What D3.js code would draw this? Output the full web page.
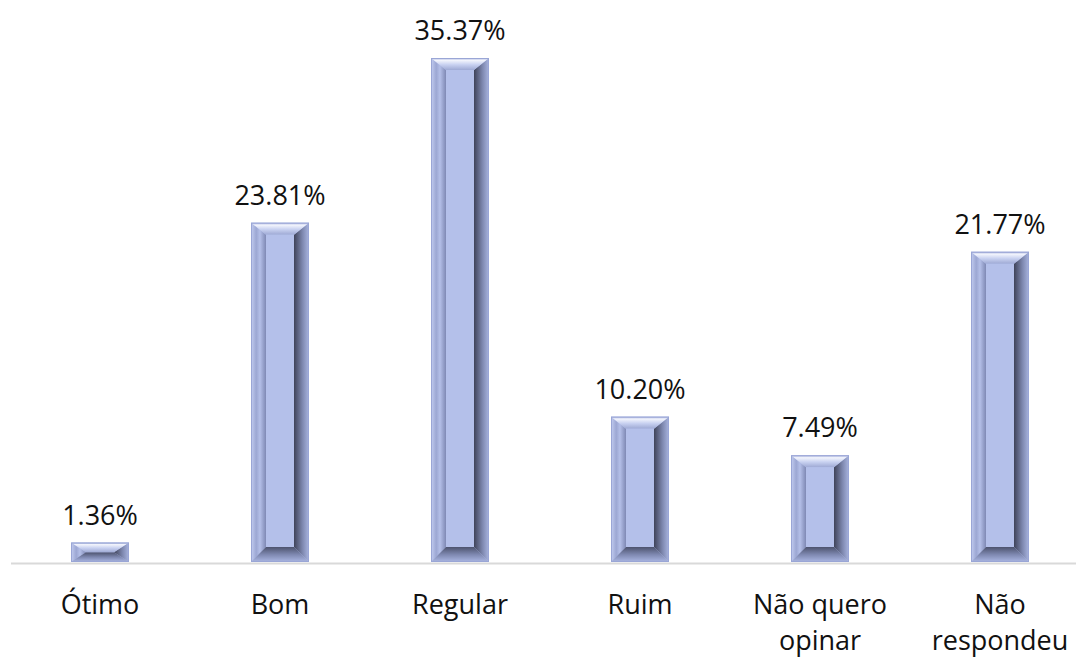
<!DOCTYPE html>
<html>
<head>
<meta charset="utf-8">
<script src="https://cdn.jsdelivr.net/npm/d3@7"></script>
<style>
  body { margin: 0; background: #fff; }
  text { font-family: "Open Sans", "Noto Sans", sans-serif; fill: #111; }
</style>
</head>
<body>
<div class="container"></div>
<script>
let categories = ["Ótimo", "Bom", "Regular", "Ruim", "Não quero opinar", "Não respondeu"];
let categoryLines = [["Ótimo"], ["Bom"], ["Regular"], ["Ruim"], ["Não quero", "opinar"], ["Não", "respondeu"]];
let values = [1.36, 23.81, 35.37, 10.20, 7.49, 21.77];
let valueLabels = ["1.36%", "23.81%", "35.37%", "10.20%", "7.49%", "21.77%"];

let W = 1076, H = 658;
let baseY = 562, topY = 58;

let svg = d3.select(".container").append("svg")
    .attr("width", W)
    .attr("height", H);

let x = d3.scaleBand().domain(categories).range([10, 1090]).padding(0);
let y = d3.scaleLinear().domain([0, d3.max(values)]).range([baseY, topY]);
let barW = 58;

// gradients for the bevelled bars
let defs = svg.append("defs");
function grad(id, x1, y1, x2, y2, stops) {
    let g = defs.append("linearGradient").attr("id", id)
        .attr("x1", x1).attr("y1", y1).attr("x2", x2).attr("y2", y2);
    stops.forEach(s => g.append("stop").attr("offset", s[0]).attr("stop-color", s[1]));
}
grad("gTop", 0, 0, 0, 1, [[0, "#a9b4de"], [0.2, "#f2f4fc"], [0.55, "#c9d2f1"], [1, "#9ea9d4"]]);
grad("gLeft", 0, 0, 1, 0, [[0, "#c3cdf1"], [0.35, "#9ca7d3"], [0.6, "#b4bfe8"], [1, "#7f89b4"]]);
grad("gRight", 1, 0, 0, 0, [[0, "#a9b5e0"], [0.45, "#7c86ad"], [1, "#3f4359"]]);
grad("gBottom", 0, 0, 0, 1, [[0, "#4d536e"], [0.5, "#7e88b0"], [1, "#abb7e3"]]);

let bars = svg.append("g").selectAll("g")
    .data(values)
    .enter()
    .append("g");

bars.each(function (d, i) {
    let g = d3.select(this);
    let x0 = x(categories[i]) + (x.bandwidth() - barW) / 2, x1 = x0 + barW;
    let y0 = y(d), y1 = baseY;
    let h = y1 - y0;
    let bs = 15, bt = Math.min(12, h / 2), bb = Math.min(15, h / 2);
    let ix0 = x0 + bs, ix1 = x1 - bs, iy0 = y0 + bt, iy1 = y1 - bb;
    let poly = pts => pts.map(p => p.join(",")).join(" ");
    g.append("rect").attr("x", x0).attr("y", y0).attr("width", barW).attr("height", h)
        .attr("fill", "#b3bfe9");
    g.append("polygon").attr("points", poly([[x0, y0], [ix0, iy0], [ix0, iy1], [x0, y1]]))
        .attr("fill", "url(#gLeft)");
    g.append("polygon").attr("points", poly([[x1, y0], [ix1, iy0], [ix1, iy1], [x1, y1]]))
        .attr("fill", "url(#gRight)");
    g.append("polygon").attr("points", poly([[x0, y1], [ix0, iy1], [ix1, iy1], [x1, y1]]))
        .attr("fill", "url(#gBottom)");
    g.append("polygon").attr("points", poly([[x0, y0], [x1, y0], [ix1, iy0], [ix0, iy0]]))
        .attr("fill", "url(#gTop)");
    g.append("rect").attr("x", ix0).attr("y", iy0).attr("width", ix1 - ix0).attr("height", Math.max(0, iy1 - iy0))
        .attr("fill", "#b4c0ea");
    g.append("rect").attr("x", x0 + 0.5).attr("y", y0 + 0.5).attr("width", barW - 1).attr("height", h - 1)
        .attr("fill", "none").attr("stroke", "#9aa6d6").attr("stroke-width", 1);
});

// axis line
svg.append("line")
    .attr("x1", 11).attr("x2", W)
    .attr("y1", baseY + 1.5).attr("y2", baseY + 1.5)
    .attr("stroke", "#d9d9d9").attr("stroke-width", 2);

// value labels
svg.append("g").selectAll("text")
    .data(values)
    .enter()
    .append("text")
    .attr("x", (d, i) => x(categories[i]) + x.bandwidth() / 2)
    .attr("y", d => y(d) - 18)
    .attr("text-anchor", "middle")
    .attr("font-size", 27)
    .text((d, i) => valueLabels[i]);

// category labels
let cat = svg.append("g").selectAll("text")
    .data(categoryLines)
    .enter()
    .append("text")
    .attr("x", (d, i) => x(categories[i]) + x.bandwidth() / 2)
    .attr("y", 614)
    .attr("text-anchor", "middle")
    .attr("font-size", 27);

cat.selectAll("tspan")
    .data(d => d)
    .enter()
    .append("tspan")
    .attr("x", function () { return d3.select(this.parentNode).attr("x"); })
    .attr("dy", (d, j) => j === 0 ? 0 : 36)
    .text(d => d);
</script>
</body>
</html>
